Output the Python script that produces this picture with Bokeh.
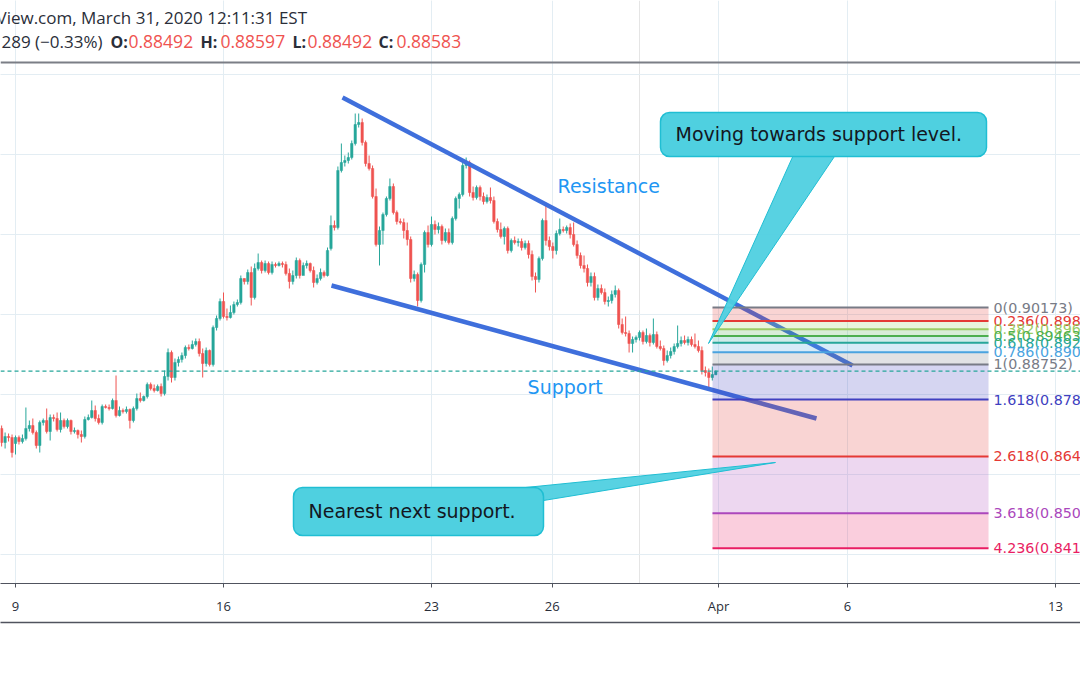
from bokeh.plotting import figure
from bokeh.models import (Range1d, FixedTicker, LinearAxis, Grid, Label, ColumnDataSource, Span)
from bokeh.embed import file_html
from bokeh.resources import INLINE

# ---------------- data (2-hour candles) ----------------
opens = [0.8715,0.868,0.8695,0.86925,0.86775,0.86925,0.86825,0.869,0.8715,0.87225,
         0.8705,0.86725,0.873,0.8735,0.87075,0.87425,0.874,0.87125,0.8735,0.872,
         0.8735,0.87075,0.871,0.87,0.8695,0.87375,0.87425,0.876,0.874,0.873,
         0.877,0.87675,0.8765,0.8785,0.87475,0.876,0.87575,0.87625,0.8735,0.8765,
         0.879,0.8785,0.8795,0.8825,0.8815,0.881,0.882,0.88025,0.8845,0.8905,
         0.88425,0.888,0.88875,0.88975,0.89175,0.8915,0.8925,0.89325,0.89025,0.88775,
         0.891,0.8875,0.89675,0.899,0.90325,0.8995,0.89925,0.9005,0.9025,0.903,
         0.909,0.90825,0.9105,0.90425,0.9115,0.913,0.911,0.91275,0.9105,0.9125,
         0.91225,0.91275,0.9125,0.91025,0.90825,0.90975,0.9135,0.90975,0.91225,0.91275,
         0.911,0.908,0.909,0.9105,0.90975,0.9165,0.92225,0.92175,0.936,0.938,
         0.9385,0.93925,0.94275,0.9475,0.948,0.943,0.93775,0.9365,0.9295,0.9175,
         0.921,0.925,0.929,0.932,0.9255,0.92325,0.923,0.921,0.91875,0.909,
         0.91,0.9035,0.9125,0.9205,0.9175,0.9225,0.92125,0.922,0.9185,0.9205,
         0.918,0.924,0.929,0.93,0.93725,0.938,0.9305,0.92925,0.93175,0.9295,
         0.92825,0.92925,0.9285,0.92325,0.92125,0.9195,0.9215,0.916,0.9185,0.918,
         0.91825,0.91675,0.91775,0.915,0.9095,0.90875,0.914,0.9235,0.9185,0.917,
         0.916,0.92025,0.92125,0.921,0.92175,0.92,0.9175,0.91475,0.91225,0.9115,
         0.908,0.9095,0.90425,0.9065,0.9055,0.90325,0.9035,0.905,0.906,0.8975,
         0.8955,0.89525,0.89275,0.89375,0.89425,0.8955,0.89325,0.89475,0.893,0.895,
         0.892,0.8915,0.8885,0.88975,0.89075,0.892,0.89275,0.8935,0.893,0.89375,
         0.8925,0.892,0.891,0.886,0.8855,0.88425,0.88492]
highs = [0.87225,0.8705,0.87025,0.87,0.86975,0.86975,0.87,0.87675,0.8735,0.874,
         0.871,0.8735,0.874,0.8765,0.875,0.875,0.8755,0.8755,0.874,0.874,
         0.87375,0.87175,0.87125,0.871,0.8745,0.875,0.8785,0.87725,0.875,0.8775,
         0.8775,0.8775,0.879,0.88475,0.877,0.8765,0.877,0.8765,0.877,0.88025,
         0.8805,0.87975,0.883,0.883,0.8825,0.8825,0.88275,0.886,0.8915,0.891,
         0.889,0.8895,0.8905,0.89225,0.8925,0.8935,0.894,0.894,0.8915,0.89175,
         0.89125,0.89725,0.89975,0.904,0.9055,0.9015,0.90225,0.90325,0.90375,0.90975,
         0.909,0.91125,0.912,0.91275,0.91525,0.9135,0.9135,0.91325,0.91325,0.913,
         0.91325,0.91325,0.91325,0.9115,0.911,0.91425,0.914,0.913,0.9135,0.913,
         0.912,0.91,0.9115,0.911,0.91675,0.92475,0.9235,0.937,0.94275,0.93975,
         0.9405,0.9435,0.95025,0.95025,0.949,0.9435,0.93975,0.93725,0.9315,0.922,
         0.9255,0.9295,0.934,0.93275,0.926,0.924,0.924,0.923,0.9195,0.911,
         0.9105,0.913,0.921,0.92225,0.9245,0.9235,0.923,0.9225,0.9215,0.9215,
         0.9245,0.9295,0.9305,0.9385,0.93925,0.9385,0.932,0.93225,0.93225,0.9305,
         0.93,0.93175,0.9295,0.924,0.923,0.922,0.922,0.919,0.9195,0.919,
         0.919,0.9185,0.9185,0.916,0.9105,0.9145,0.924,0.92775,0.9195,0.918,
         0.921,0.924,0.922,0.92225,0.92275,0.923,0.9185,0.9155,0.91475,0.9125,
         0.9105,0.9105,0.9075,0.9075,0.9065,0.9045,0.906,0.90725,0.9065,0.899,
         0.8995,0.896,0.8945,0.89475,0.896,0.896,0.8965,0.89525,0.899,0.89575,
         0.8935,0.89225,0.891,0.89175,0.89275,0.89725,0.8945,0.89475,0.8945,0.8945,
         0.89525,0.8935,0.892,0.887,0.8865,0.887,0.88597]
lows = [0.867,0.8665,0.86825,0.86425,0.865,0.8675,0.86775,0.8685,0.87075,0.87,
        0.8665,0.8655,0.87225,0.87025,0.8685,0.87325,0.87075,0.8705,0.8715,0.8715,
        0.87,0.87025,0.869,0.868,0.869,0.8735,0.874,0.87325,0.8725,0.8725,
        0.8765,0.876,0.87625,0.87425,0.8745,0.87525,0.87525,0.8715,0.873,0.876,
        0.878,0.87825,0.879,0.881,0.8805,0.88075,0.8795,0.87975,0.8835,0.883,
        0.8835,0.887,0.888,0.889,0.891,0.89125,0.892,0.8895,0.88425,0.887,
        0.887,0.887,0.896,0.8985,0.899,0.8985,0.899,0.9,0.902,0.9025,
        0.9075,0.9075,0.90225,0.90375,0.911,0.91025,0.9105,0.91,0.91,0.91175,
        0.912,0.91175,0.90975,0.9065,0.9075,0.909,0.909,0.91025,0.9115,0.9105,
        0.90675,0.9075,0.9085,0.90925,0.9095,0.916,0.921,0.92125,0.9355,0.937,
        0.93775,0.93875,0.94225,0.94675,0.94225,0.937,0.936,0.929,0.917,0.91225,
        0.9175,0.9245,0.9285,0.925,0.9225,0.9225,0.919,0.91725,0.908,0.90825,
        0.902,0.903,0.9105,0.91675,0.917,0.92,0.92025,0.9175,0.918,0.9175,
        0.9175,0.9235,0.9265,0.9295,0.9365,0.9295,0.9285,0.92875,0.9285,0.9275,
        0.92775,0.92775,0.92275,0.9205,0.919,0.9175,0.91525,0.9155,0.9175,0.917,
        0.916,0.91625,0.914,0.9085,0.9055,0.908,0.9135,0.91725,0.916,0.914,
        0.915,0.91975,0.9205,0.92025,0.919,0.917,0.914,0.9115,0.9105,0.907,
        0.907,0.9035,0.9035,0.905,0.9025,0.902,0.90275,0.90425,0.8965,0.895,
        0.8945,0.8905,0.8905,0.893,0.8935,0.8925,0.89275,0.892,0.8925,0.8915,
        0.891,0.88725,0.888,0.889,0.89,0.8915,0.892,0.8925,0.89225,0.892,
        0.8915,0.8905,0.885,0.8845,0.881,0.8835,0.88492]
closes = [0.868,0.8695,0.86925,0.8655,0.86925,0.86825,0.869,0.8715,0.87225,0.8705,
          0.86725,0.873,0.8735,0.87075,0.87425,0.874,0.87125,0.8735,0.872,0.8735,
          0.87075,0.871,0.87,0.8695,0.87375,0.87425,0.876,0.874,0.873,0.877,
          0.87675,0.8765,0.8785,0.87475,0.876,0.87575,0.87625,0.8735,0.8765,0.879,
          0.8785,0.8795,0.8825,0.8815,0.881,0.882,0.88025,0.8845,0.8905,0.88425,
          0.888,0.88875,0.88975,0.89175,0.8915,0.8925,0.89325,0.89025,0.88775,0.891,
          0.8875,0.89675,0.899,0.90325,0.8995,0.89925,0.9005,0.9025,0.903,0.909,
          0.90825,0.9105,0.90425,0.9115,0.913,0.911,0.91275,0.9105,0.9125,0.91225,
          0.91275,0.9125,0.91025,0.90825,0.90975,0.9135,0.90975,0.91225,0.91275,0.911,
          0.908,0.909,0.9105,0.90975,0.916,0.92225,0.92175,0.936,0.938,0.9385,
          0.93925,0.94275,0.9475,0.948,0.943,0.93775,0.9365,0.9295,0.9175,0.921,
          0.925,0.929,0.932,0.9255,0.92325,0.923,0.921,0.91875,0.909,0.91,
          0.9035,0.9125,0.9205,0.9175,0.9225,0.92125,0.922,0.9185,0.9205,0.918,
          0.924,0.929,0.93,0.93725,0.938,0.9305,0.92925,0.93175,0.9295,0.92825,
          0.92925,0.9285,0.92325,0.92125,0.9195,0.9215,0.916,0.9185,0.918,0.91825,
          0.91675,0.91775,0.915,0.9095,0.90875,0.914,0.9235,0.9185,0.917,0.916,
          0.92025,0.92125,0.921,0.92175,0.92,0.9175,0.91475,0.91225,0.9115,0.908,
          0.9095,0.90425,0.9065,0.9055,0.90325,0.9035,0.905,0.906,0.8975,0.8955,
          0.89525,0.89275,0.89375,0.89425,0.8955,0.89325,0.89475,0.893,0.895,0.892,
          0.8915,0.8885,0.88975,0.89075,0.892,0.89275,0.8935,0.893,0.89375,0.8925,
          0.892,0.891,0.886,0.8855,0.88425,0.885,0.88583]

bars_per_day = 12          # 2-hour bars, forex 24h sessions
first_bar_offset = -4      # first visible bar: 4 bars before Mar 9 00:00
# x unit = trading days since Mar 9
tick_pos = [0, 5, 10, 12.9, 16.9, 20, 25]
tick_labels = ["9", "16", "23", "26", "Apr", "6", "13"]
price_grid = [0.84, 0.86, 0.88, 0.90, 0.92, 0.94, 0.96]
chart_top_price = 0.963    # upper edge of the price pane (legend strip sits above it)

# Fibonacci retracement drawn by the author
fib_levels = [0, 0.236, 0.382, 0.5, 0.618, 0.786, 1, 1.618, 2.618, 3.618, 4.236]
fib_colors = ["#787b86", "#e53935", "#9ccc65", "#4caf50", "#26a69a", "#4aa3df",
              "#787b86", "#4040c0", "#e53935", "#ab47bc", "#e91e63"]
fib_price_0 = 0.90173
fib_price_1 = 0.88752
fib_t_start, fib_t_end = 16.755, 23.39

# trend lines (time, price)
resistance_t, resistance_p = [7.861, 20.12], [0.95425, 0.88725]
support_t, support_p = [7.596, 19.255], [0.90725, 0.874]

# ---------------- figure ----------------
p = figure(width=1080, height=675, output_backend="svg", toolbar_location=None,
           x_range=Range1d(-0.3606, 25.601), y_range=Range1d(0.83275, 0.9785),
           y_axis_location=None, x_axis_location=None,
           min_border_left=0, min_border_right=0, min_border_top=0, min_border_bottom=92,
           background_fill_color="white", border_fill_color="white", outline_line_color=None)

xt = FixedTicker(ticks=tick_pos)
xaxis = LinearAxis(ticker=xt, major_label_overrides={t: l for t, l in zip(tick_pos, tick_labels)},
                   major_tick_out=4, major_tick_in=0, minor_tick_out=0, minor_tick_in=0,
                   axis_line_color="#50535e", major_tick_line_color="#50535e",
                   major_label_text_color="#2a2e39", major_label_text_font="Open Sans",
                   major_label_text_font_size="13px", major_label_standoff=9,
                   axis_label=" ", axis_label_text_font_size="2px", axis_label_standoff=0)
p.add_layout(xaxis, "below")
xaxis2 = LinearAxis(ticker=FixedTicker(ticks=[]), major_tick_out=0, major_tick_in=0,
                    minor_tick_out=0, minor_tick_in=0, major_label_text_font_size="0px",
                    axis_line_color="#50535e", axis_line_width=1.5)
p.add_layout(xaxis2, "below")

p.add_layout(Grid(dimension=0, ticker=xt, grid_line_color="#e3edf3",
                  bounds=(0.83275, chart_top_price)))
p.add_layout(Grid(dimension=1, ticker=FixedTicker(ticks=price_grid), grid_line_color="#e3edf3"))
p.add_layout(Span(location=chart_top_price, dimension="width", line_color="#7b7e86",
                  line_width=1.8))

# candles
times = [(first_bar_offset + i) / bars_per_day for i in range(len(closes))]
up = [c >= o for o, c in zip(opens, closes)]
src = ColumnDataSource(dict(
    t=times, o=opens, h=highs, l=lows, c=closes,
    top=[max(o, c) for o, c in zip(opens, closes)],
    bot=[min(o, c) for o, c in zip(opens, closes)],
    col=["#26a69a" if u else "#ef5350" for u in up]))
p.segment(x0="t", y0="l", x1="t", y1="h", color="col", line_width=1, source=src)
p.vbar(x="t", top="top", bottom="bot", width=0.058, fill_color="col", line_color="col",
       line_width=0.5, source=src)

# trend lines
line_col = "#3f6fdc"
p.line(resistance_t, resistance_p, line_color=line_col, line_width=4.5)
p.line(support_t, support_p, line_color=line_col, line_width=4.5)

# fib fills + lines
rng = fib_price_0 - fib_price_1
fib_prices = [fib_price_0 - lv * rng for lv in fib_levels]
for k in range(1, len(fib_levels)):
    p.quad(left=fib_t_start, right=fib_t_end, top=fib_prices[k - 1], bottom=fib_prices[k],
           fill_color=fib_colors[k], fill_alpha=0.22, line_color=None)
for lv, pr, col in zip(fib_levels, fib_prices, fib_colors):
    p.segment(x0=fib_t_start, y0=pr, x1=fib_t_end, y1=pr, line_color=col, line_width=2)
    p.add_layout(Label(x=fib_t_end + 0.12, y=pr, text=f"{lv:g}({pr:.5f})", text_color=col,
                       text_font="DejaVu Sans", text_font_size="14.3px",
                       text_baseline="middle"))

# last price line
p.add_layout(Span(location=closes[-1], dimension="width", line_color="#26a69a",
                  line_dash="4 3", line_width=1.2))

# trend line captions
p.add_layout(Label(x=13.03, y=0.93225, text="Resistance", text_color="#2196f3",
                   text_font="DejaVu Sans", text_font_size="19px", text_baseline="middle"))
p.add_layout(Label(x=12.31, y=0.882, text="Support", text_color="#2196f3",
                   text_font="DejaVu Sans", text_font_size="19px", text_baseline="middle"))

# callouts
call_fill, call_line = "#4fd0e0", "#20bed3"
p.patch([18.75, 19.784, 16.659], [0.941, 0.941, 0.89275], fill_color=call_fill,
        line_color=call_line, fill_alpha=0.95)
p.quad(left=15.505, right=23.341, top=0.9505, bottom=0.9395, fill_color=call_fill,
       line_color=call_line, line_width=1.5, border_radius=9)
p.add_layout(Label(x=15.865, y=0.94525, text="Moving towards support level.", text_color="#131722",
                   text_font="DejaVu Sans", text_font_size="19px", text_baseline="middle"))

p.patch([12.019, 18.269, 12.692], [0.8565, 0.863, 0.8535], fill_color=call_fill,
        line_color=call_line, fill_alpha=0.95)
p.quad(left=6.683, right=12.692, top=0.85675, bottom=0.84475, fill_color=call_fill,
       line_color=call_line, line_width=1.5, border_radius=9)
p.add_layout(Label(x=7.043, y=0.851, text="Nearest next support.", text_color="#131722",
                   text_font="DejaVu Sans", text_font_size="19px", text_baseline="middle"))

# header (TradingView legend, clipped at left like the screenshot)
def hdr(px, y, text, color="#2a2e39", bold=False, size="17px"):
    p.add_layout(Label(x=(px - 15) / 41.6, y=y, text=text, text_color=color,
                       text_font="Open Sans", text_font_size=size, text_baseline="middle",
                       text_font_style="bold" if bold else "normal"))

hdr(-4, 0.97425, "View.com, March 31, 2020 12:11:31 EST")
ohlc_vals = [opens[-1], highs[-1], lows[-1], closes[-1]]
hdr(1, 0.96825, "289 (\u22120.33%)")
for px_lab, px_val, lab, v in zip([110, 200, 292, 378], [128, 220, 307, 396],
                                  ["O:", "H:", "L:", "C:"], ohlc_vals):
    hdr(px_lab, 0.96825, lab, bold=True, size="16px")
    hdr(px_val, 0.96825, f"{v:.5f}", color="#ef5350", size="17.5px")

open("out.html", "w").write(file_html(p, INLINE))
